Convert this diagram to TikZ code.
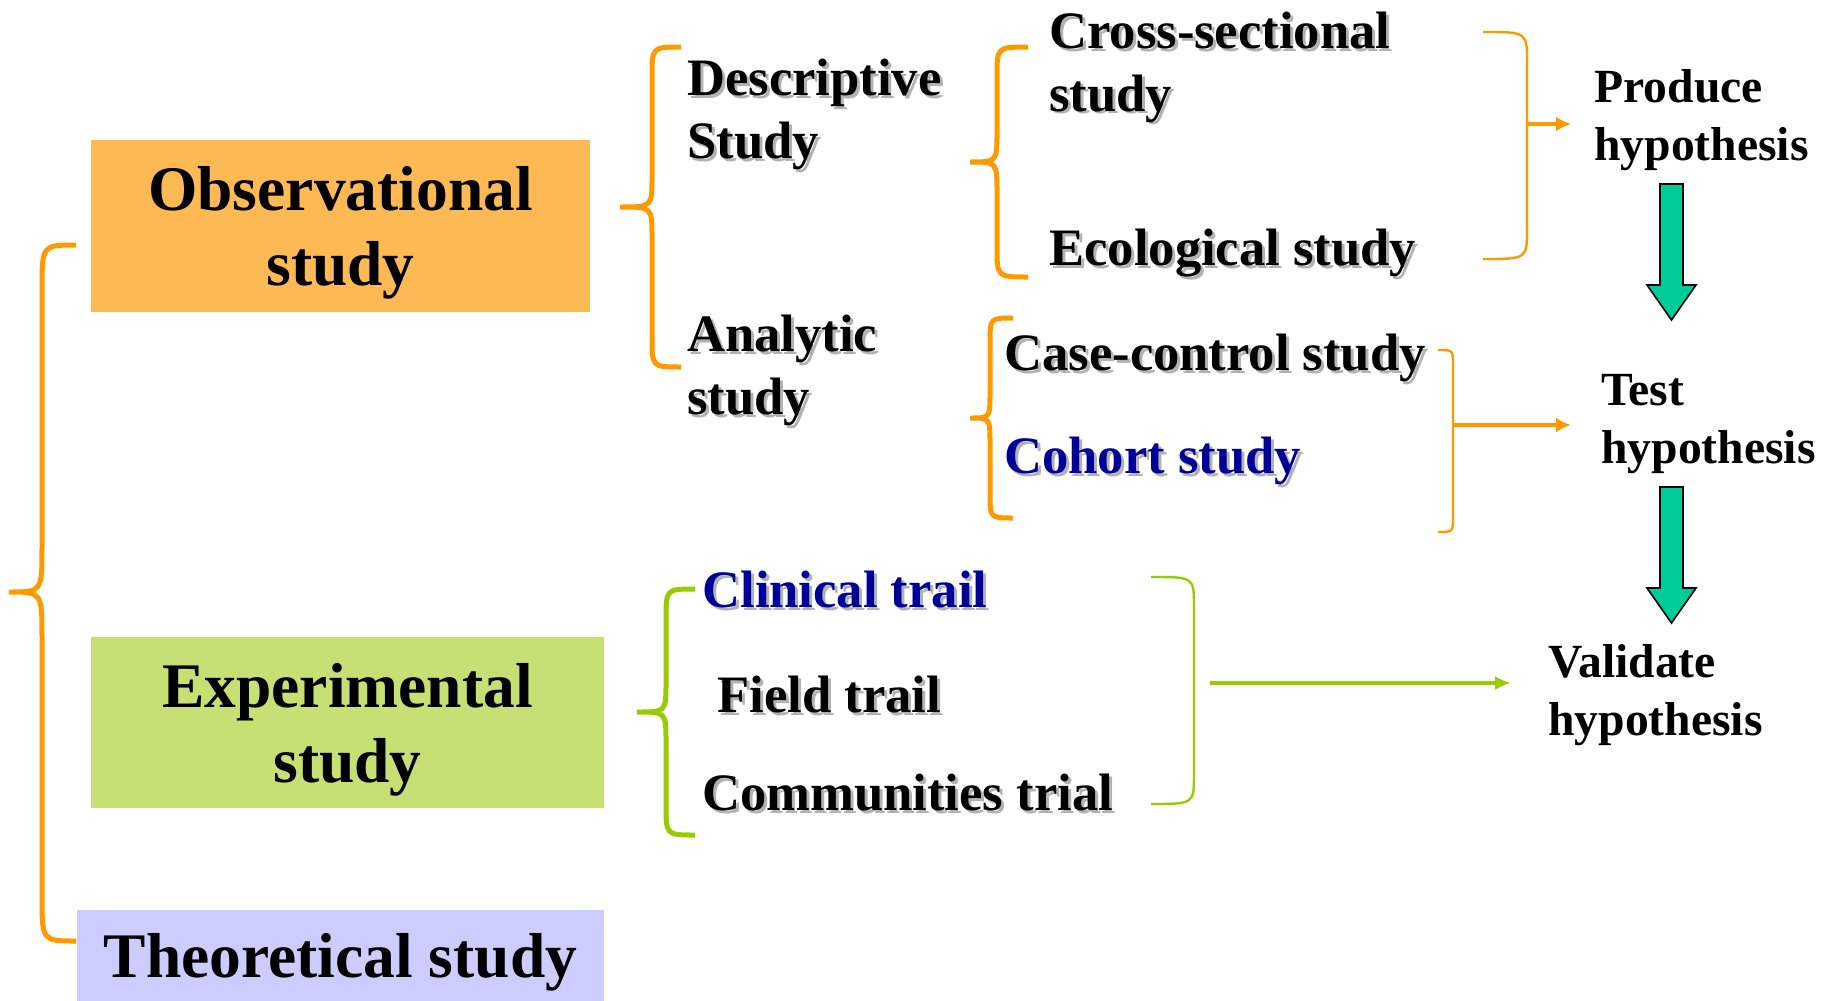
\documentclass[tikz,border=0pt]{standalone}
\usepackage{fontspec}
\setmainfont{Liberation Serif}
\usetikzlibrary{arrows.meta}
\definecolor{obsfill}{RGB}{253,185,83}
\definecolor{expfill}{RGB}{198,224,115}
\definecolor{theofill}{RGB}{204,204,255}
\definecolor{braceorange}{RGB}{255,153,0}
\definecolor{bracegreen}{RGB}{153,204,0}
\definecolor{navy}{RGB}{0,0,153}
\definecolor{arrowgreen}{RGB}{0,204,153}
\newcommand{\shadowed}[1]{\rlap{\raisebox{-1.5pt}{\hspace{1.5pt}\textcolor{black!30}{#1}}}#1}
% style, tip x, line x, end x, top y, tip y, bottom y, bend
\newcommand{\openbrace}[8]{\draw[#1] (#4,#5) .. controls (#3,#5) .. (#3,#5+#8) -- (#3,#6-#8) .. controls (#3,#6) .. (#2,#6) .. controls (#3,#6) .. (#3,#6+#8) -- (#3,#7-#8) .. controls (#3,#7) .. (#4,#7);}
\newcommand{\closebrace}[6]{\draw[#1] (#3,#4) .. controls (#2,#4) .. (#2,#4+#6) -- (#2,#5-#6) .. controls (#2,#5) .. (#3,#5);}
\begin{document}
\begin{tikzpicture}[x=0.5pt,y=-0.5pt,>={Latex[length=7.5pt,width=7.5pt]},
    box/.style={font=\fontsize{31.75}{37.5}\selectfont\bfseries,align=center,text depth=0pt,inner sep=0pt},
    item/.style={font=\fontsize{26.3}{31.5}\selectfont\bfseries,align=left,anchor=base west,inner sep=0pt},
    hyp/.style={font=\fontsize{23.8}{29}\selectfont\bfseries,align=left,anchor=base west,inner sep=0pt},
    thick brace/.style={braceorange,line width=2.5pt},
    thin brace/.style={braceorange,line width=1.2pt},
    orangearrow/.style={->,braceorange,line width=2.2pt},
    greenarrow/.style={->,bracegreen,line width=2.4pt},
    blockarrow/.style={fill=arrowgreen,draw=black,line width=0.8pt}]
  \useasboundingbox (0,0) rectangle (1826,1001);

  \node[box,fill=obsfill,minimum width=249.5pt,minimum height=86pt] (obs) at (340.5,225.5) {Observational\\study};
  \node[box,fill=expfill,minimum width=256.5pt,minimum height=85.5pt] (exp) at (347.5,722.5) {Experimental\\study};
  \node[box,fill=theofill,minimum width=263.5pt,minimum height=45.5pt] (theo) at (340.5,955.5) {Theoretical study};

  \openbrace{thick brace}{9}{42}{76}{245}{592}{941}{45}
  \openbrace{thick brace}{620}{652}{681}{47}{207}{367}{30}
  \openbrace{thick brace}{970}{997}{1028}{47}{162}{277}{30}
  \openbrace{thick brace}{970}{990}{1013}{318}{418}{518}{25}
  \openbrace{thick brace,bracegreen}{637}{666}{695}{589}{712}{835}{30}

  % multi-line nodes sit on the baseline of their last line
  \node[item] (desc) at (687,158) {\shadowed{Descriptive}\\\shadowed{Study}};
  \node[item] (analytic) at (687,414) {\shadowed{Analytic}\\\shadowed{study}};
  \node[item] (cross) at (1049,111) {\shadowed{Cross-sectional}\\\shadowed{study}};
  \node[item] (eco) at (1049,265) {\shadowed{Ecological study}};
  \node[item] (casectrl) at (1004,370) {\shadowed{Case-control study}};
  \node[item,text=navy] (cohort) at (1004,473) {\shadowed{Cohort study}};
  \node[item,text=navy] (clinical) at (702,607) {\shadowed{Clinical trail}};
  \node[item] (field) at (717,712) {\shadowed{Field trail}};
  \node[item] (community) at (702,810) {\shadowed{Communities trial}};

  \node[hyp] (produce) at (1594,160) {Produce\\hypothesis};
  \node[hyp] (test) at (1601,463) {Test\\hypothesis};
  \node[hyp] (validate) at (1548,735) {Validate\\hypothesis};

  \closebrace{thin brace}{1527}{1483}{32}{259}{30}
  \closebrace{thin brace}{1453}{1438}{350}{532}{15}
  \closebrace{thin brace,bracegreen}{1194}{1151}{577}{804}{30}

  \coordinate (pj) at (1527,124);
  \coordinate (tj) at (1453,425);
  \coordinate (vj) at (1210,683);
  \draw[orangearrow,shorten >=11.5pt] (pj) -- (produce.west |- pj);
  \draw[orangearrow,shorten >=15pt] (tj) -- (test.west |- tj);
  \draw[greenarrow,shorten >=18.5pt,>={Latex[length=8pt,width=7pt]}] (vj) -- (validate.west |- vj);

  \draw[blockarrow] (1660,184) -- (1683,184) -- (1683,285) -- (1696,285) -- (1671.5,320) -- (1647,285) -- (1660,285) -- cycle;
  \draw[blockarrow] (1660,487) -- (1683,487) -- (1683,588) -- (1696,588) -- (1671.5,623) -- (1647,588) -- (1660,588) -- cycle;
\end{tikzpicture}
\end{document}
